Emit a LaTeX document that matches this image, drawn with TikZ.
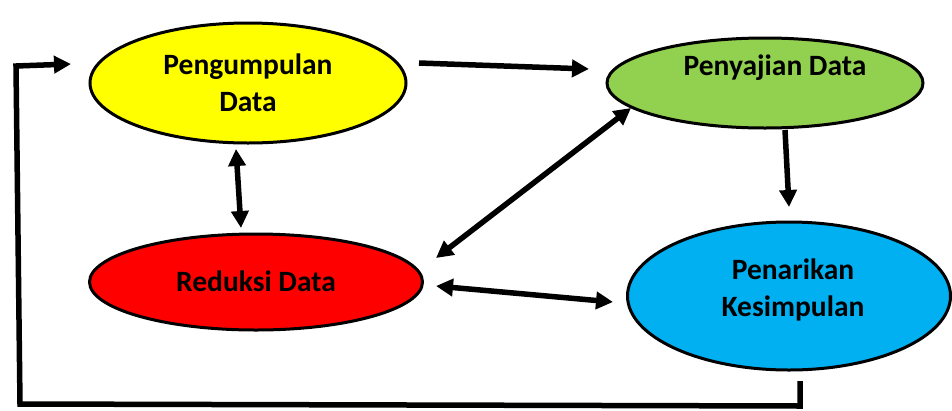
\documentclass[tikz,border=0pt]{standalone}
\usepackage{fontspec}
\setmainfont{Carlito}
\usetikzlibrary{shapes.geometric,arrows.meta}
\definecolor{cyel}{HTML}{FFFF00}
\definecolor{cgrn}{HTML}{92D050}
\definecolor{cred}{HTML}{FF0000}
\definecolor{cblu}{HTML}{00B0F0}
\tikzset{
  oval/.style={ellipse, draw=black, line width=3pt, inner sep=0pt},
  lbl/.style={align=center, font=\fontsize{29.5}{37}\selectfont\bfseries, inner sep=0pt},
  conn/.style={line width=5.5pt, -{Triangle[length=17pt,width=17pt]}},
  dconn/.style={line width=5.5pt, {Triangle[length=17pt,width=17pt]}-{Triangle[length=17pt,width=17pt]}},
}
\begin{document}
\begin{tikzpicture}[x=1pt,y=-1pt]
\useasboundingbox (0,0) rectangle (952,410);
\node[oval, fill=cyel, minimum width=316pt, minimum height=120pt] (pg) at (248,83) {};
\node[oval, fill=cgrn, minimum width=316pt, minimum height=90pt] (pj) at (765,83) {};
\node[oval, fill=cred, minimum width=333pt, minimum height=96pt] (rd) at (256,282) {};
\node[oval, fill=cblu, minimum width=323pt, minimum height=148pt] (pk) at (789,296) {};
\node[lbl] (tpg) at (248,83) {Pengumpulan\\Data};
\node[lbl] (tpj) at (775,68) {Penyajian Data};
\node[lbl] (trd) at (256,281) {Reduksi Data};
\node[lbl] (tpk) at (793,290) {Penarikan\\Kesimpulan};
% connector end points
\coordinate (a1) at (419,63); \coordinate (a2) at (589,69);
\coordinate (b1) at (785,130); \coordinate (b2) at (789,207);
\coordinate (c1) at (236,149); \coordinate (c2) at (241,228);
\coordinate (d1) at (631,108); \coordinate (d2) at (436,258);
\coordinate (e1) at (436,286); \coordinate (e2) at (613,302);
\coordinate (f1) at (800,381); \coordinate (f2) at (800,406);
\coordinate (f3) at (20,404); \coordinate (f4) at (16,66);
\coordinate (f5) at (71,64);
\draw[conn] (a1) -- (a2);
\draw[conn] (b1) -- (b2);
\draw[dconn] (c1) -- (c2);
\draw[dconn] (d1) -- (d2);
\draw[dconn] (e1) -- (e2);
\draw[conn, line join=miter] (f1) -- (f2) -- (f3) -- (f4) -- (f5);
\end{tikzpicture}
\end{document}
